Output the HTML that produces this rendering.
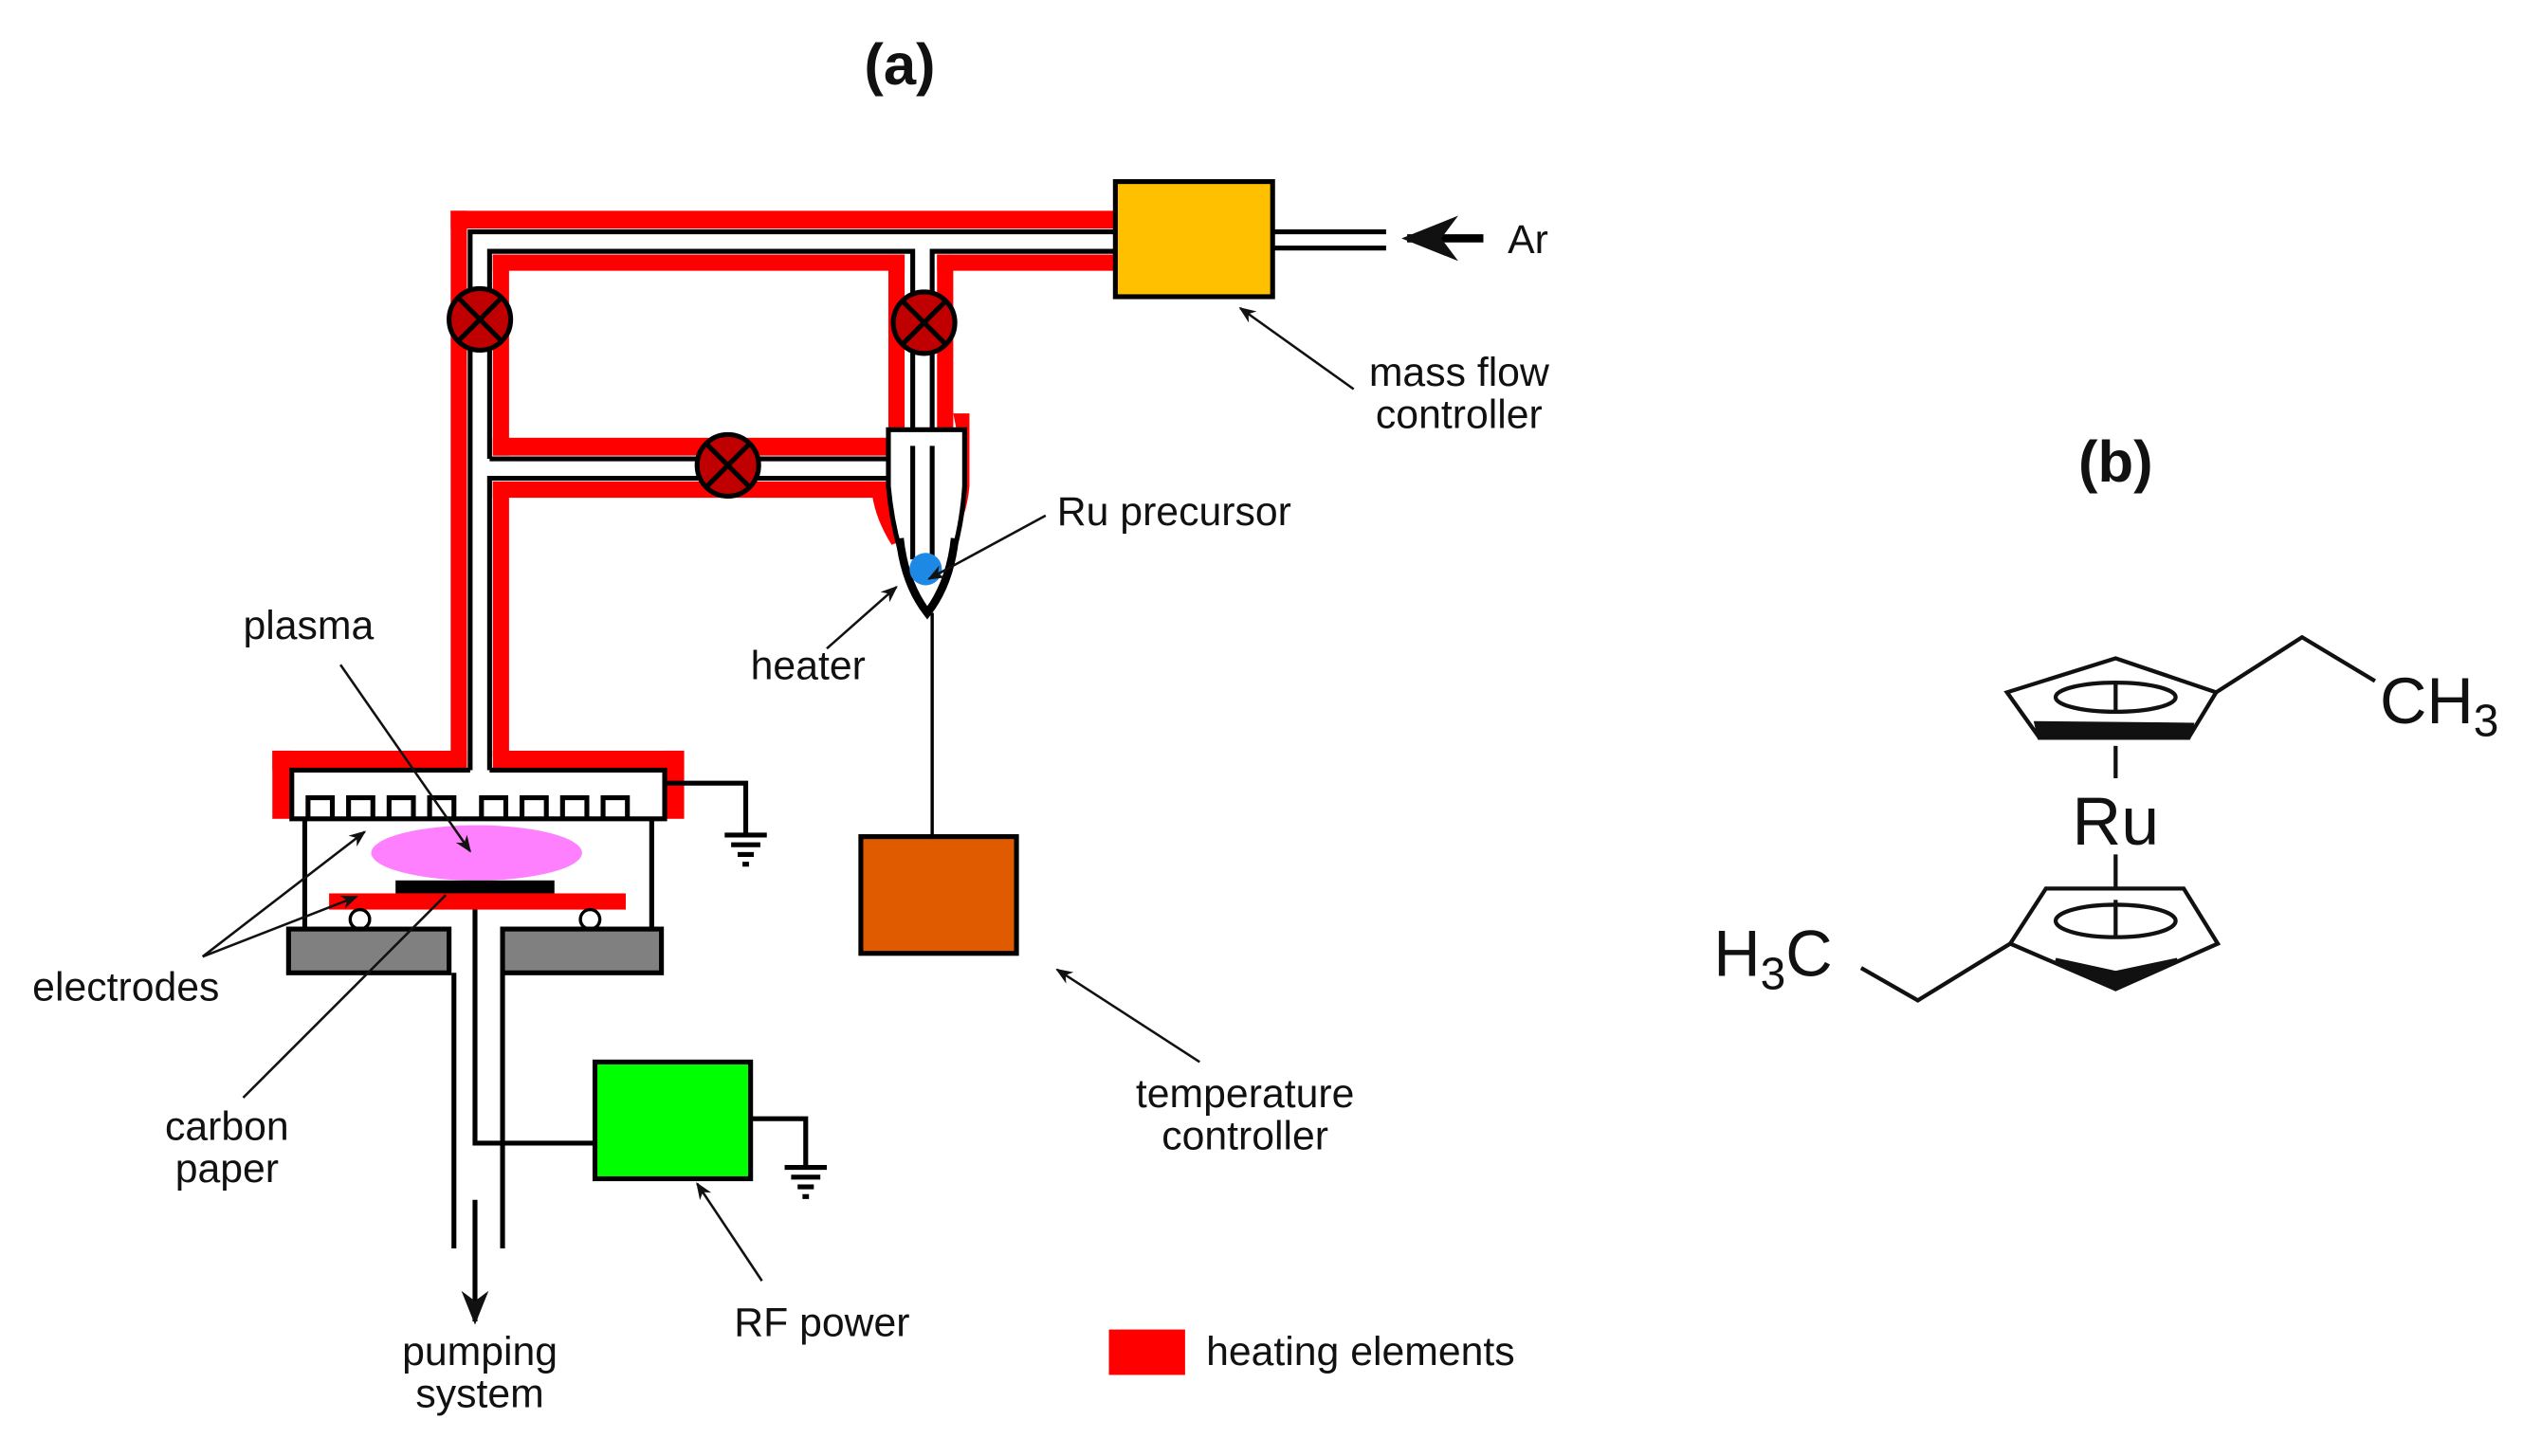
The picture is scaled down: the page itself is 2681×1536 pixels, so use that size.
<!DOCTYPE html>
<html><head><meta charset="utf-8"><style>
html,body{margin:0;padding:0;background:#fff}
svg{display:block}
text{font-family:"Liberation Sans",sans-serif;fill:#111}
</style></head><body>
<svg width="2681" height="1536" viewBox="0 0 1568 898" preserveAspectRatio="none" xmlns="http://www.w3.org/2000/svg">
<defs>
<marker id="ah" viewBox="0 0 10 10" refX="9" refY="5" markerWidth="7" markerHeight="7" orient="auto"><path d="M0,1 L10,5 L0,9 L3,5 Z" fill="#111"/></marker>
</defs>
<text x="555" y="52" font-size="36" font-weight="bold" text-anchor="middle">(a)</text>
<text x="1305" y="297" font-size="36" font-weight="bold" text-anchor="middle">(b)</text>

<!-- red heating bands -->
<g fill="#ff0000">
<rect x="278" y="130" width="410" height="11"/>
<rect x="278" y="130" width="10" height="345"/>
<rect x="304" y="157" width="254" height="10"/>
<rect x="304" y="157" width="10" height="124"/>
<rect x="304" y="270" width="250" height="11"/>
<rect x="548" y="157" width="10" height="120"/>
<rect x="578" y="157" width="110" height="10"/>
<rect x="578" y="157" width="10" height="110"/>
<path d="M588,255 L598,255 L598,300 Q596,322 585,335 L578,333 Q588,318 590,298 L590,265 Z"/>
<path d="M538,297 L548,297 L548,305 Q550,320 558,333 L550,336 Q540,320 538,305 Z"/>
<rect x="304" y="297" width="244" height="10"/>
<rect x="304" y="297" width="10" height="170"/>
<rect x="168" y="463" width="120" height="12"/>
<rect x="304" y="463" width="118" height="12"/>
<rect x="168" y="463" width="12" height="42"/>
<rect x="410" y="463" width="12" height="42"/>
</g>
<!-- pipe black lines -->
<g stroke="#000" stroke-width="3" fill="none">
<path d="M290,475 L290,143 L688,143"/>
<path d="M302,475 L302,295 L548,295"/>
<path d="M302,283 L302,155 L563,155 L563,350"/>
<path d="M575,350 L575,155 L688,155"/>
<path d="M302,283 L548,283"/>
<path d="M785,143 L855,143 M785,153 L855,153"/>
<path d="M548,265 L595,265 L595,300 Q592,345 572,378 Q552,345 548,300 Z" fill="#fff"/>
<path d="M563,275 L563,345 M575,275 L575,345"/>
</g>
<path d="M555,332 Q558,360 572,378 Q586,360 589,332" stroke="#000" stroke-width="5" fill="none"/>
<circle cx="571" cy="351" r="10" fill="#1e88e5"/>
<!-- valves -->
<g stroke="#000" stroke-width="3" fill="#c00000">
<circle cx="296" cy="197" r="19"/><path d="M283,184 L309,210 M309,184 L283,210"/>
<circle cx="570" cy="199" r="19"/><path d="M557,186 L583,212 M583,186 L557,212"/>
<circle cx="449" cy="287" r="19"/><path d="M436,274 L462,300 M462,274 L436,300"/>
</g>
<!-- boxes -->
<rect x="688" y="112" width="97" height="71" fill="#ffc000" stroke="#000" stroke-width="3"/>
<rect x="531" y="516" width="96" height="72" fill="#e05a00" stroke="#000" stroke-width="3"/>
<rect x="367" y="655" width="96" height="72" fill="#00ff00" stroke="#000" stroke-width="3"/>
<line x1="575" y1="378" x2="575" y2="516" stroke="#000" stroke-width="2"/>
<!-- chamber -->
<g stroke="#000" stroke-width="3" fill="none">
<path d="M290,475 L180,475 L180,505 L410,505 L410,475 L302,475" fill="#fff"/>
<path d="M190,505 V492 H205 V505 M215,505 V492 H230 V505 M240,505 V492 H255 V505 M265,505 V492 H280 V505 M297,505 V492 H312 V505 M322,505 V492 H337 V505 M347,505 V492 H362 V505 M372,505 V492 H387 V505"/>
<path d="M188,505 V573 M402,505 V573"/>
<path d="M410,483 H460 V515"/>
<path d="M447,515 H473 M451,521 H469 M455,527 H465 M458,533 H462"/>
<path d="M463,690 H497 V720"/>
<path d="M484,720 H510 M488,726 H506 M492,732 H502 M495,738 H499"/>
<path d="M280,600 V770 M310,600 V770"/>
<path d="M293,560 V705 H367"/>
</g>
<ellipse cx="294" cy="526" rx="65" ry="17" fill="#ff80ff"/>
<rect x="244" y="543" width="98" height="8" fill="#000"/>
<rect x="203" y="551" width="183" height="10" fill="#ff0000"/>
<circle cx="222" cy="567" r="6" fill="#fff" stroke="#000" stroke-width="2"/>
<circle cx="364" cy="567" r="6" fill="#fff" stroke="#000" stroke-width="2"/>
<rect x="178" y="573" width="99" height="27" fill="#808080" stroke="#000" stroke-width="3"/>
<rect x="310" y="573" width="98" height="27" fill="#808080" stroke="#000" stroke-width="3"/>
<line x1="293" y1="740" x2="293" y2="815" stroke="#000" stroke-width="3" marker-end="url(#ah)"/>
<line x1="915" y1="147" x2="868" y2="147" stroke="#000" stroke-width="5" marker-end="url(#ah)"/>
<!-- label arrows -->
<g stroke="#111" stroke-width="1.5" marker-end="url(#ah)">
<line x1="835" y1="240" x2="765" y2="190"/>
<line x1="645" y1="318" x2="573" y2="357"/>
<line x1="510" y1="400" x2="553" y2="362"/>
<line x1="210" y1="410" x2="290" y2="525"/>
<line x1="125" y1="590" x2="225" y2="513"/>
<line x1="125" y1="590" x2="220" y2="553"/>
<line x1="740" y1="655" x2="652" y2="598"/>
<line x1="470" y1="790" x2="430" y2="730"/>
</g>
<line x1="150" y1="677" x2="275" y2="552" stroke="#111" stroke-width="1.5"/>
<!-- labels -->
<g font-size="25">
<text x="930" y="156">Ar</text>
<text x="900" y="238" text-anchor="middle">mass flow</text>
<text x="900" y="264" text-anchor="middle">controller</text>
<text x="652" y="324">Ru precursor</text>
<text x="463" y="419">heater</text>
<text x="150" y="394">plasma</text>
<text x="20" y="617">electrodes</text>
<text x="140" y="703" text-anchor="middle">carbon</text>
<text x="140" y="729" text-anchor="middle">paper</text>
<text x="768" y="683" text-anchor="middle">temperature</text>
<text x="768" y="709" text-anchor="middle">controller</text>
<text x="507" y="824" text-anchor="middle">RF power</text>
<text x="296" y="842" text-anchor="middle">pumping</text>
<text x="296" y="868" text-anchor="middle">system</text>
<text x="744" y="842">heating elements</text>
</g>
<rect x="684" y="820" width="47" height="28" fill="#ff0000"/>
<!-- molecule -->
<g stroke="#111" stroke-width="2.5" fill="none">
<path d="M1238,427 L1305,406 L1367,427 L1350,455 L1258,455 Z"/>
<path d="M1258,455 L1350,455 L1352,447 L1256,446 Z" fill="#111"/>
<ellipse cx="1305" cy="430" rx="37" ry="9"/>
<path d="M1305,421 V438"/>
<path d="M1367,427 L1420,393 L1465,420"/>
<path d="M1305,460 V480 M1305,527 V548"/>
<path d="M1262,548 L1347,548 L1368,582 L1305,610 L1240,582 Z"/>
<path d="M1268,592 L1305,610 L1343,592 L1305,600 Z" fill="#111"/>
<ellipse cx="1305" cy="568" rx="37" ry="10"/>
<path d="M1305,555 V578"/>
<path d="M1240,582 L1183,617 L1148,597"/>
</g>
<text x="1468" y="446" font-size="40">CH<tspan font-size="28" dy="8">3</tspan></text>
<text x="1305" y="521" font-size="42" text-anchor="middle">Ru</text>
<text x="1057" y="602" font-size="40">H<tspan font-size="28" dy="8">3</tspan><tspan dy="-8">C</tspan></text>
</svg>
</body></html>
